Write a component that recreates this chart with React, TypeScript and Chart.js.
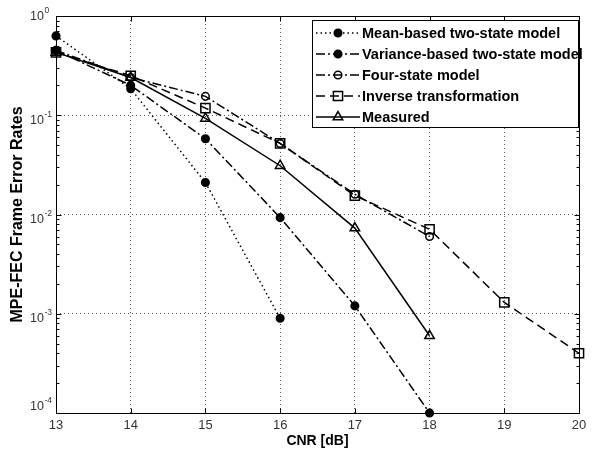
import React, { useEffect, useRef } from 'react';
import { Chart, registerables } from 'chart.js';
import { drawPoint } from 'chart.js/helpers';

Chart.register(...registerables);

// ---- Data ----
const cnrValues = [13, 14, 15, 16, 17, 18, 19, 20];
const meanBased = [0.63, 0.185, 0.021, 0.0009];
const varianceBased = [0.45, 0.2, 0.058, 0.0093, 0.0012, 0.0001];
const fourState = [0.45, 0.24, 0.155, 0.052, 0.016, 0.006];
const inverseTransformation = [0.43, 0.25, 0.118, 0.052, 0.0155, 0.0071, 0.0013, 0.0004];
const measured = [0.43, 0.24, 0.093, 0.031, 0.0073, 0.0006];
const seriesLabels = [
  'Mean-based two-state model',
  'Variance-based two-state model',
  'Four-state model',
  'Inverse transformation',
  'Measured',
];
const xTickValues = [13, 14, 15, 16, 17, 18, 19, 20];
const yDecadeExponents = [0, -1, -2, -3, -4];
const xTitle = 'CNR [dB]';
const yTitle = 'MPE-FEC Frame Error Rates';

// ---- Styles ----
const seriesStyles = [
  { dash: [1.5, 3], pointStyle: 'circle', radius: 3.8, fill: '#000' },
  { dash: [9, 3, 2, 3], pointStyle: 'circle', radius: 3.8, fill: '#000' },
  { dash: [9, 3, 2, 3], pointStyle: 'circle', radius: 3.8, fill: 'rgba(0,0,0,0)' },
  { dash: [9, 5], pointStyle: 'rect', radius: 6.5, fill: 'rgba(0,0,0,0)' },
  { dash: [], pointStyle: 'triangle', radius: 5.5, fill: 'rgba(0,0,0,0)' },
];
const seriesValues = [meanBased, varianceBased, fourState, inverseTransformation, measured];

const decorPlugin = {
  id: 'decor',
  afterDraw(chart: any) {
    const { ctx, chartArea: a, scales } = chart;
    const xs = scales.x;
    const ys = scales.y;
    ctx.save();
    ctx.setLineDash([]);
    ctx.strokeStyle = '#000';
    ctx.lineWidth = 1;
    const L = Math.round(a.left) + 0.5;
    const R = Math.round(a.right) + 0.5;
    const T = Math.round(a.top) + 0.5;
    const B = Math.round(a.bottom) + 0.5;
    ctx.strokeRect(L, T, R - L, B - T);
    const seg = (x1: number, y1: number, x2: number, y2: number) => {
      ctx.beginPath();
      ctx.moveTo(x1, y1);
      ctx.lineTo(x2, y2);
      ctx.stroke();
    };
    // x ticks (inside, bottom and top)
    for (const v of xTickValues) {
      const px = Math.round(xs.getPixelForValue(v)) + 0.5;
      seg(px, B, px, B - 5);
      seg(px, T, px, T + 5);
    }
    // y ticks: major decades + minor 2..9
    for (const e of yDecadeExponents) {
      for (let m = 1; m <= 9; m++) {
        const v = m * Math.pow(10, e);
        if (v > 1.0000001) break;
        const py = Math.round(ys.getPixelForValue(v)) + 0.5;
        const len = m === 1 ? 5 : 3;
        seg(L, py, L + len, py);
        seg(R, py, R - len, py);
      }
    }
    // y tick labels 10^e
    ctx.fillStyle = '#333';
    ctx.textAlign = 'left';
    ctx.textBaseline = 'middle';
    for (const e of yDecadeExponents) {
      const py = ys.getPixelForValue(Math.pow(10, e));
      const shift = e === 0 ? 1 : e === -4 ? -6 : 5;
      const baseX = 30;
      ctx.font = '12.5px "Liberation Sans", Arial, sans-serif';
      ctx.fillText('10', baseX, py + shift);
      const w = ctx.measureText('10').width;
      ctx.font = '8.5px "Liberation Sans", Arial, sans-serif';
      ctx.fillText(String(e), baseX + w + 0.5, py + shift - 6);
    }
    // legend
    const bx = 312, by = 20, bw = 266, bh = 107;
    ctx.fillStyle = '#fff';
    ctx.fillRect(bx, by, bw, bh);
    ctx.strokeStyle = '#000';
    ctx.strokeRect(bx + 0.5, by + 0.5, bw, bh);
    seriesLabels.forEach((label, i) => {
      const st = seriesStyles[i];
      const cy = 33 + i * 21;
      ctx.save();
      ctx.strokeStyle = '#000';
      ctx.lineWidth = 1.5;
      ctx.setLineDash(st.dash);
      seg(316, cy, 360, cy);
      ctx.setLineDash([]);
      ctx.fillStyle = st.fill;
      ctx.lineWidth = 1.5;
      drawPoint(ctx, { pointStyle: st.pointStyle, radius: st.radius, borderWidth: 1.5, rotation: 0 } as any, 338, cy);
      ctx.restore();
      ctx.fillStyle = '#000';
      ctx.font = 'bold 14.5px "Liberation Sans", Arial, sans-serif';
      ctx.textAlign = 'left';
      ctx.textBaseline = 'middle';
      ctx.fillText(label, 362, cy + 1);
    });
    ctx.restore();
  },
};

export default function App() {
  const ref = useRef<HTMLCanvasElement | null>(null);
  useEffect(() => {
    document.body.style.margin = '0';
    const canvas = ref.current;
    if (!canvas) return;
    const datasets = seriesValues.map((vals, i) => ({
      label: seriesLabels[i],
      data: vals.map((v, j) => ({ x: cnrValues[j], y: v })),
      borderColor: '#000',
      borderWidth: 1.5,
      borderDash: seriesStyles[i].dash,
      pointStyle: seriesStyles[i].pointStyle,
      pointRadius: seriesStyles[i].radius,
      pointBackgroundColor: seriesStyles[i].fill,
      pointBorderColor: '#000',
      pointBorderWidth: 1.5,
      fill: false,
      tension: 0,
      clip: false as any,
    }));
    const chart = new Chart(canvas, {
      type: 'line',
      data: { datasets } as any,
      plugins: [decorPlugin],
      options: {
        responsive: false,
        animation: false,
        events: [],
        layout: { padding: { top: 16, right: 18, left: 0, bottom: 0 } },
        plugins: { legend: { display: false }, tooltip: { enabled: false } },
        scales: {
          x: {
            type: 'linear',
            min: 13,
            max: 20,
            afterBuildTicks: (s: any) => {
              s.ticks = xTickValues.map((v) => ({ value: v }));
            },
            afterFit: (s: any) => {
              s.height = 38;
            },
            ticks: {
              color: '#333',
              font: { family: '"Liberation Sans", Arial, sans-serif', size: 13 },
              padding: 5,
              maxRotation: 0,
              autoSkip: false,
            },
            grid: { color: '#555', lineWidth: 1, drawTicks: false },
            border: { display: false, dash: [1, 3] },
            title: {
              display: true,
              text: xTitle,
              color: '#000',
              font: { family: '"Liberation Sans", Arial, sans-serif', size: 14, weight: 'bold' },
              padding: { top: 0, bottom: 1 },
            },
          },
          y: {
            type: 'logarithmic',
            min: 0.0001,
            max: 1,
            afterFit: (s: any) => {
              s.width = 56;
            },
            ticks: { display: false },
            grid: {
              color: (c: any) => {
                const v = c.tick ? c.tick.value : 0;
                const l = Math.log10(v);
                return Math.abs(l - Math.round(l)) < 1e-6 ? '#555' : 'rgba(0,0,0,0)';
              },
              lineWidth: 1,
              drawTicks: false,
            },
            border: { display: false, dash: [1, 3] },
            title: {
              display: true,
              text: yTitle,
              color: '#000',
              font: { family: '"Liberation Sans", Arial, sans-serif', size: 16, weight: 'bold' },
              padding: { top: 8, bottom: 0 },
            },
          },
        },
      } as any,
    });
    return () => chart.destroy();
  }, []);
  return <canvas ref={ref} width={597} height={451} style={{ display: 'block', width: 597, height: 451 }} />;
}
